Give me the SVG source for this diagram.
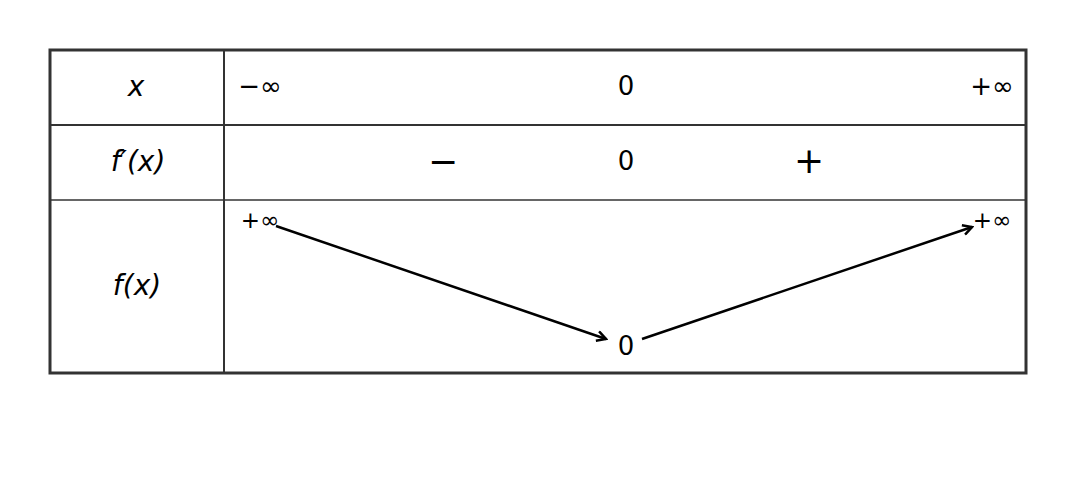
<svg xmlns="http://www.w3.org/2000/svg" width="1076" height="492" viewBox="0 0 1076 492">
<defs><marker id="a" markerWidth="12" markerHeight="12" refX="10" refY="6" orient="auto" markerUnits="userSpaceOnUse"><path d="M1,1 L10,6 L1,11" fill="none" stroke="#000" stroke-width="2.5"/></marker></defs>
<style>text{font-family:"DejaVu Sans",sans-serif;fill:#000;text-anchor:middle}.i{font-style:italic;font-size:28px}.n{font-size:26px}.s{font-size:23px}</style>
<rect width="1076" height="492" fill="#fff"/>
<g id="table" fill="none" stroke="#333">
<rect x="50" y="50" width="976" height="323" stroke-width="3"/>
<line x1="50" y1="125" x2="1026" y2="125" stroke-width="2"/>
<line x1="50" y1="200" x2="1026" y2="200" stroke-width="1.5"/>
<line x1="224" y1="50" x2="224" y2="373" stroke-width="2"/>
</g>
<g id="labels">
<text class="i" x="136" y="96">x</text>
<text class="i" x="138" y="171">f′(x)</text>
<text class="i" x="137" y="295">f(x)</text>
<text class="n" x="260" y="95">−∞</text>
<text class="n" x="626" y="95">0</text>
<text class="n" x="992" y="95">+∞</text>
<text x="443" y="174" style="font-size:36px">−</text>
<text class="n" x="626" y="170">0</text>
<text x="809" y="173" style="font-size:36px">+</text>
<text class="s" x="260" y="228">+∞</text>
<text class="s" x="992" y="228">+∞</text>
<text class="n" x="626" y="355">0</text>
</g>
<g id="connectors" stroke="#000" stroke-width="2.5" marker-end="url(#a)">
<line x1="276" y1="226" x2="606" y2="339"/>
<line x1="642" y1="339" x2="972" y2="227"/>
</g>
</svg>
